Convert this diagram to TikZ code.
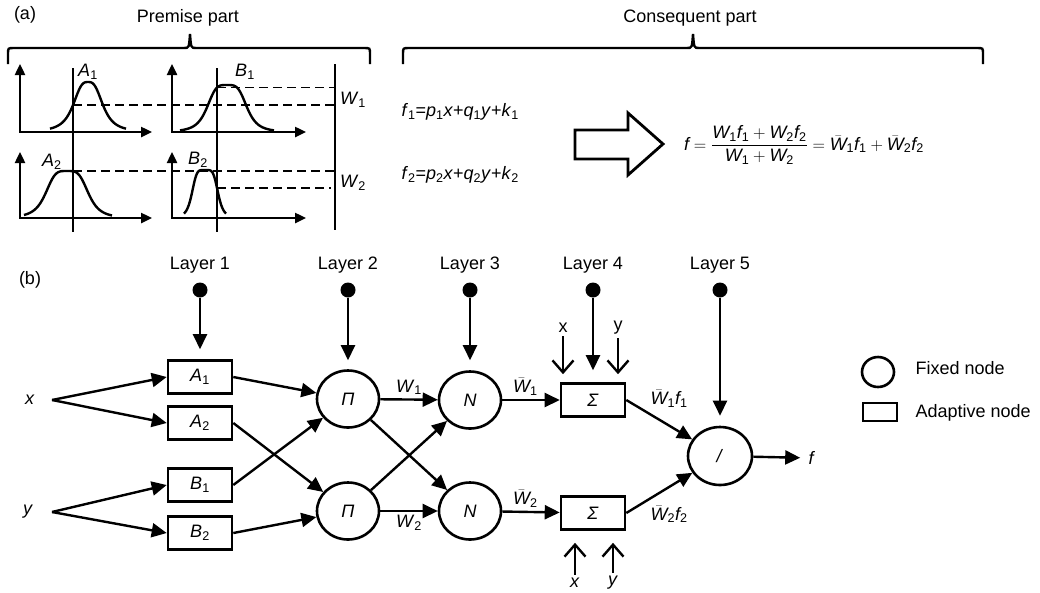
\documentclass[tikz,border=0pt]{standalone}
\usepackage{amsmath}
\usepackage{fontspec}
\setmainfont{Liberation Sans}
\usetikzlibrary{arrows.meta,shapes.geometric}

\newcommand{\vs}[2]{\textit{#1}\textsubscript{#2}}
\newcommand{\mv}[2]{\text{\itshape #1}_{\text{#2}}}
\newcommand{\bw}[1]{\bar{\text{\itshape W}}_{\text{#1}}}

\tikzset{
  adapt/.style={draw, line width=2.6pt, minimum width=64pt, minimum height=33pt, inner sep=0pt},
  fixed/.style={draw, ellipse, line width=2.6pt, minimum width=62pt, minimum height=57pt, inner sep=0pt},
  conn/.style={line width=2.4pt, -{Triangle[length=15pt,width=14pt]}},
  feed/.style={line width=2.4pt, -{Straight Barb[length=12pt,width=21pt]}},
  dot/.style={circle, fill, inner sep=0pt, minimum size=15pt},
  axis/.style={line width=2.4pt, {Triangle[length=11pt,width=10pt]}-{Triangle[length=11pt,width=10pt]}},
  bell/.style={line width=2.4pt},
  guide/.style={line width=1.8pt, dash pattern=on 9pt off 5pt},
  brk/.style={line width=2.4pt}
}

\begin{document}
\begin{tikzpicture}[x=1pt, y=-1pt, font=\fontsize{18}{21}\selectfont,
    declare function={gb(\vx,\vc,\va,\vh,\vp)=\vh/(1+pow(abs((\vx-\vc)/\va)+0.0001,\vp));}]
  \useasboundingbox (0,0) rectangle (1040,592);

  % (a) premise and consequent
  \node (lbla) at (25,15) {(a)};
  \node (prem) at (188,18) {Premise part};
  \node (cons) at (690,18) {Consequent part};
  \draw[brk] (8,64) -- (8,54) .. controls (8,48) .. (14,48) -- (184,48)
    .. controls (189,48) .. (190,34) .. controls (191,48) .. (196,48) -- (364,48)
    .. controls (370,48) .. (370,54) -- (370,64);
  \draw[brk] (403,64) -- (403,54) .. controls (403,48) .. (409,48) -- (687,48)
    .. controls (692,48) .. (693,34) .. controls (694,48) .. (699,48) -- (977,48)
    .. controls (983,48) .. (983,54) -- (983,64);

  % membership functions
  \draw[axis] (20,64) -- (20,132) -- (152,132);
  \draw[axis] (172,64) -- (172,132) -- (306,132);
  \draw[axis] (20,152) -- (20,218) -- (152,218);
  \draw[axis] (172,152) -- (172,218) -- (306,218);
  \draw[bell] plot[smooth, domain=50:126, samples=60] (\x,{132-gb(\x,88,15.8,50,3)});
  \draw[bell] plot[smooth, domain=180:274, samples=60] (\x,{132-gb(\x,227,20.5,47,4)});
  \draw[bell] plot[smooth, domain=24:112, samples=60] (\x,{218-gb(\x,67,22,47,4)});
  \draw[bell] plot[smooth, domain=184:226, samples=60] (\x,{218-gb(\x,205,13.3,48,5)});
  \draw[line width=2.4pt] (73,68) -- (73,232);
  \draw[line width=2.4pt] (217,68) -- (217,232);
  \draw[line width=2.4pt] (335,64) -- (335,230);
  \draw[guide] (73,{132-gb(73,88,15.8,50,3)}) -- (335,{132-gb(73,88,15.8,50,3)});
  \draw[guide] (217,{132-gb(217,227,20.5,47,4)}) -- (335,{132-gb(217,227,20.5,47,4)});
  \draw[guide] (73,{218-gb(73,67,22,47,4)}) -- (335,{218-gb(73,67,22,47,4)});
  \draw[guide] (217,{218-gb(217,205,13.3,48,5)}) -- (331,{218-gb(217,205,13.3,48,5)});
  \node (la1) at (88,72) {\vs{A}{1}};
  \node (lb1) at (245,72) {\vs{B}{1}};
  \node (la2) at (52,162) {\vs{A}{2}};
  \node (lb2) at (198,160) {\vs{B}{2}};
  \node (lw1) at (353,100) {\vs{W}{1}};
  \node (lw2) at (353,183) {\vs{W}{2}};

  % rules and output
  \node[anchor=west] (rule1) at (398,112) {\vs{f}{1}=\vs{p}{1}\textit{x}+\vs{q}{1}\textit{y}+\vs{k}{1}};
  \node[anchor=west] (rule2) at (398,175) {\vs{f}{2}=\vs{p}{2}\textit{x}+\vs{q}{2}\textit{y}+\vs{k}{2}};
  \draw[line width=2.8pt] (575,130) -- (628,130) -- (628,113) -- (663,144)
    -- (628,175) -- (628,159) -- (575,159) -- cycle;
  \node (fsum) at (804,145) {$\text{\itshape f} = \dfrac{\mv{W}{1}\mv{f}{1} + \mv{W}{2}\mv{f}{2}}{\mv{W}{1} + \mv{W}{2}} = \bw{1}\mv{f}{1} + \bw{2}\mv{f}{2}$};

  % (b) network
  \node (lblb) at (30,280) {(b)};
  \foreach \n/\xx in {1/200,2/348,3/470,4/593,5/720}{
    \node (lay\n) at (\xx,265) {Layer \n};
    \node[dot] (dot\n) at (\xx,290) {};
  }

  \node (xin) at (30,400) {\textit{x}};
  \node (yin) at (28,512) {\textit{y}};
  \coordinate (xb) at (52,400);
  \coordinate (yb) at (52,512);

  \node[adapt] (A1) at (200,377) {\vs{A}{1}};
  \node[adapt] (A2) at (200,423) {\vs{A}{2}};
  \node[adapt] (B1) at (200,485) {\vs{B}{1}};
  \node[adapt] (B2) at (200,533) {\vs{B}{2}};
  \node[fixed] (P1) at (348,399) {\textit{Π}};
  \node[fixed] (P2) at (348,511) {\textit{Π}};
  \node[fixed] (N1) at (470,400) {\textit{N}};
  \node[fixed] (N2) at (470,511) {\textit{N}};
  \node[adapt] (S1) at (593,400) {\textit{Σ}};
  \node[adapt] (S2) at (593,513) {\textit{Σ}};
  \node[fixed, minimum width=64pt, minimum height=58pt] (D) at (720,456) {\textit{/}};
  \node (fout) at (812,458) {\textit{f}};

  \draw[conn, shorten >=10pt] (dot1) -- (A1);
  \draw[conn, shorten >=9pt] (dot2) -- (P1);
  \draw[conn, shorten >=10pt] (dot3) -- (N1);
  \draw[conn, shorten >=12pt] (dot4) -- (S1);
  \draw[conn, shorten >=10pt] (dot5) -- (D);

  \draw[conn] (xb) -- (A1.west);
  \draw[conn] (xb) -- (A2.west);
  \draw[conn] (yb) -- (B1.west);
  \draw[conn] (yb) -- (B2.west);
  \draw[conn] (A1.east) -- (P1);
  \draw[conn] (A2.east) -- (P2);
  \draw[conn] (B1.east) -- (P1);
  \draw[conn] (B2.east) -- (P2);
  \draw[conn] (P1) -- node[above] {\vs{W}{1}} (N1);
  \draw[conn] (P1) -- (N2);
  \draw[conn] (P2) -- (N1);
  \draw[conn] (P2) -- node[below] {\vs{W}{2}} (N2);
  \draw[conn] (N1) -- node[pos=0.4, above] {$\bw{1}$} (S1);
  \draw[conn] (N2) -- node[pos=0.4, above] {$\bw{2}$} (S2);
  \draw[conn] (S1.east) -- node[pos=0.3, above right] {$\bw{1}\mv{f}{1}$} (D);
  \draw[conn] (S2.east) -- node[pos=0.3, below right] {$\bw{2}\mv{f}{2}$} (D);
  \draw[conn, shorten >=5pt] (D) -- (fout);

  \node (sx) at (563,328) {x};
  \node (sy) at (618,328) {y};
  \node (bx) at (575,583) {\textit{x}};
  \node (by) at (613,583) {\textit{y}};
  \draw[feed, shorten >=8pt] (sx) -- (sx |- S1.north);
  \draw[feed, shorten >=8pt] (sy) -- (sy |- S1.north);
  \draw[feed, shorten >=12pt] (bx) -- (bx |- S2.south);
  \draw[feed, shorten >=12pt] (by) -- (by |- S2.south);

  % legend
  \node[fixed, minimum width=32pt, minimum height=30pt] (legf) at (878,372) {};
  \node[adapt, minimum width=34pt, minimum height=18pt] (lega) at (880,412) {};
  \node[anchor=west] (legft) at (912,368) {Fixed node};
  \node[anchor=west] (legat) at (912,413) {Adaptive node};
\end{tikzpicture}
\end{document}
